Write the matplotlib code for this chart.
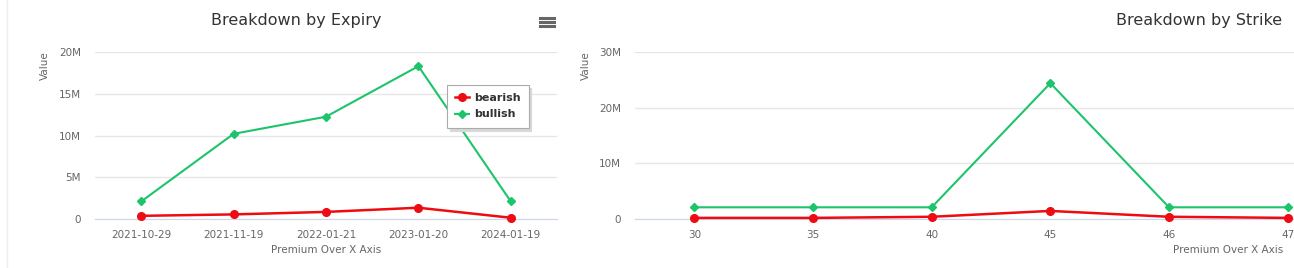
import matplotlib
matplotlib.use("Agg")
import matplotlib.pyplot as plt
from matplotlib.ticker import FuncFormatter

# data
expiry_labels = ["2021-10-29", "2021-11-19", "2022-01-21", "2023-01-20", "2024-01-19"]
expiry_bearish = [0.38e6, 0.55e6, 0.85e6, 1.35e6, 0.15e6]
expiry_bullish = [2.1e6, 10.2e6, 12.25e6, 18.3e6, 2.1e6]

strike_labels = ["30", "35", "40", "45", "46", "47"]
strike_bearish = [0.2e6, 0.2e6, 0.4e6, 1.45e6, 0.4e6, 0.2e6]
strike_bullish = [2.1e6, 2.1e6, 2.1e6, 24.4e6, 2.1e6, 2.1e6]

RED = "#ee0b12"
GREEN = "#1dc46c"
W, H = 1294, 268

fig = plt.figure(figsize=(W / 100, H / 100), dpi=100)
fig.patch.set_facecolor("white")


def fmt_m(v, pos):
    return "0" if v == 0 else "%dM" % round(v / 1e6)


def style(ax, ymax, ystep, labels):
    ax.set_ylim(0, ymax)
    ax.set_yticks(range(0, int(ymax) + 1, int(ystep)))
    ax.yaxis.set_major_formatter(FuncFormatter(fmt_m))
    ax.set_xticks(range(len(labels)))
    ax.set_xticklabels(labels)
    ax.grid(axis="y", color="#e6e6e6", linewidth=1)
    ax.set_axisbelow(True)
    for s in ["top", "right", "left"]:
        ax.spines[s].set_visible(False)
    ax.spines["bottom"].set_color("#ccd6eb")
    ax.tick_params(axis="both", length=0, labelsize=7.5, colors="#666666")
    ax.tick_params(axis="y", pad=10)
    ax.tick_params(axis="x", pad=8)
    ax.set_facecolor("white")


def draw(ax, bear, bull):
    x = range(len(bear))
    ax.plot(x, bear, color=RED, lw=1.8, marker="o", ms=5.5, label="bearish", clip_on=False, zorder=3)
    ax.plot(x, bull, color=GREEN, lw=1.5, marker="D", ms=3.8, label="bullish", clip_on=False, zorder=3)


# left chart
ax1 = fig.add_axes([95 / W, 49 / H, 462 / W, 167 / H])
draw(ax1, expiry_bearish, expiry_bullish)
style(ax1, 20e6, 5e6, expiry_labels)
ax1.set_xlim(-0.5, 4.5)
leg = ax1.legend(loc="upper left", bbox_to_anchor=(352 / 462, 134 / 167), frameon=True,
                 fancybox=False, shadow={"ox": 2, "oy": -2, "color": "#d8d8d8", "alpha": 1},
                 prop={"weight": "bold", "size": 8}, borderaxespad=0,
                 handlelength=1.25, borderpad=0.75, labelspacing=0.55, handletextpad=0.4)
leg.get_frame().set_edgecolor("#aaaaaa")
leg.get_frame().set_linewidth(0.8)
for t in leg.get_texts():
    t.set_color("#333333")

# right chart (runs past the edge of the image)
ax2 = fig.add_axes([635 / W, 49 / H, 712 / W, 167 / H])
draw(ax2, strike_bearish, strike_bullish)
style(ax2, 30e6, 10e6, strike_labels)
ax2.set_xlim(-0.5, 5.5)

# titles and axis titles
fig.text(296 / W, 1 - 20 / H, "Breakdown by Expiry", ha="center", va="center", fontsize=11.5, color="#333333")
fig.text(1199 / W, 1 - 20 / H, "Breakdown by Strike", ha="center", va="center", fontsize=11.5, color="#333333")
fig.text(45 / W, 1 - 66 / H, "Value", rotation=90, ha="center", va="center", fontsize=7.5, color="#666666")
fig.text(586 / W, 1 - 66 / H, "Value", rotation=90, ha="center", va="center", fontsize=7.5, color="#666666")
fig.text(326 / W, 1 - 250 / H, "Premium Over X Axis", ha="center", va="center", fontsize=7.5, color="#666666")
fig.text(1228 / W, 1 - 250 / H, "Premium Over X Axis", ha="center", va="center", fontsize=7.5, color="#666666")

# menu icon
for dy in (-4, 0, 4):
    fig.add_artist(plt.Line2D([540 / W, 554 / W], [1 - (22 + dy) / H] * 2, color="#666666", lw=2.2))

# panel border
fig.add_artist(plt.Line2D([7 / W, 7 / W], [0, 1], color="#eeeeee", lw=1))

fig.savefig("out.png", dpi=100)
